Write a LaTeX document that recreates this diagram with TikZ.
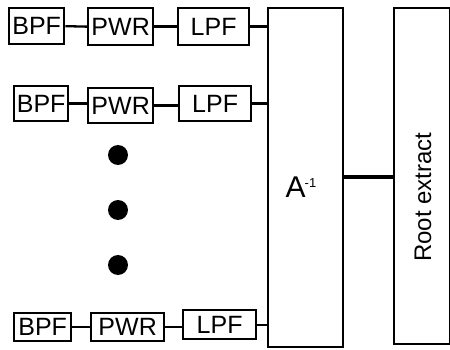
\documentclass[tikz,border=0pt]{standalone}
\usepackage{fontspec}
\setmainfont{Liberation Sans}
\begin{document}
\begin{tikzpicture}[x=1pt,y=-1pt,
  blk/.style={draw, line width=2.3pt, anchor=north west, inner sep=0pt, font=\fontsize{25}{26}\selectfont},
  wire/.style={line width=2.3pt},
  dot/.style={circle, fill=black, minimum size=20pt, inner sep=0pt}]
\useasboundingbox (0,0) rectangle (450,350);
% row 1
\node[blk, minimum width=55pt, minimum height=36pt] (b1) at (8,7) {BPF};
\node[blk, minimum width=65pt, minimum height=37pt] (p1) at (87,7) {PWR};
\node[blk, minimum width=71pt, minimum height=37pt] (l1) at (177,7) {LPF};
% row 2
\node[blk, minimum width=54pt, minimum height=35pt] (b2) at (13,85) {BPF};
\node[blk, minimum width=65pt, minimum height=35pt] (p2) at (87,87) {PWR};
\node[blk, minimum width=72pt, minimum height=35pt] (l2) at (178,85) {LPF};
% row 3
\node[blk, minimum width=57pt, minimum height=28pt] (b3) at (13,312) {BPF};
\node[blk, minimum width=73pt, minimum height=28pt] (p3) at (90,312) {PWR};
\node[blk, minimum width=73pt, minimum height=29pt] (l3) at (182,309) {LPF};
% big boxes
\node[blk, minimum width=75pt, minimum height=339pt] (A) at (267,7) {};
\node[font=\fontsize{30}{30}\selectfont, inner sep=0pt] (At) at (301,187) {A\kern-1pt\raisebox{10pt}{\fontsize{13}{13}\selectfont -1}};
\node[blk, minimum width=56pt, minimum height=336pt] (R) at (393,7) {};
\node[rotate=90, font=\fontsize{24}{26}\selectfont] (Rt) at (423,197) {Root extract};
% dots
\node[dot] (d1) at (118,155) {};
\node[dot] (d2) at (118,210) {};
\node[dot] (d3) at (118,265) {};
% wires
\draw[wire] (b1.east) -- (p1.west);
\draw[wire] (p1.east) -- (l1.west);
\draw[wire] (l1.east) -- (l1.east -| A.west);
\draw[wire] (b2.east) -- (b2.east -| p2.west);
\draw[wire] (p2.east) -- (p2.east -| l2.west);
\draw[wire] (l2.east) -- (l2.east -| A.west);
\draw[wire] (b3.east) -- (p3.west);
\draw[wire] (p3.east) -- (p3.east -| l3.west);
\draw[wire] (l3.east) -- (l3.east -| A.west);
\draw[line width=4pt] (A.east |- 0,177) coordinate (ao) -- (ao -| R.west);
\end{tikzpicture}
\end{document}
